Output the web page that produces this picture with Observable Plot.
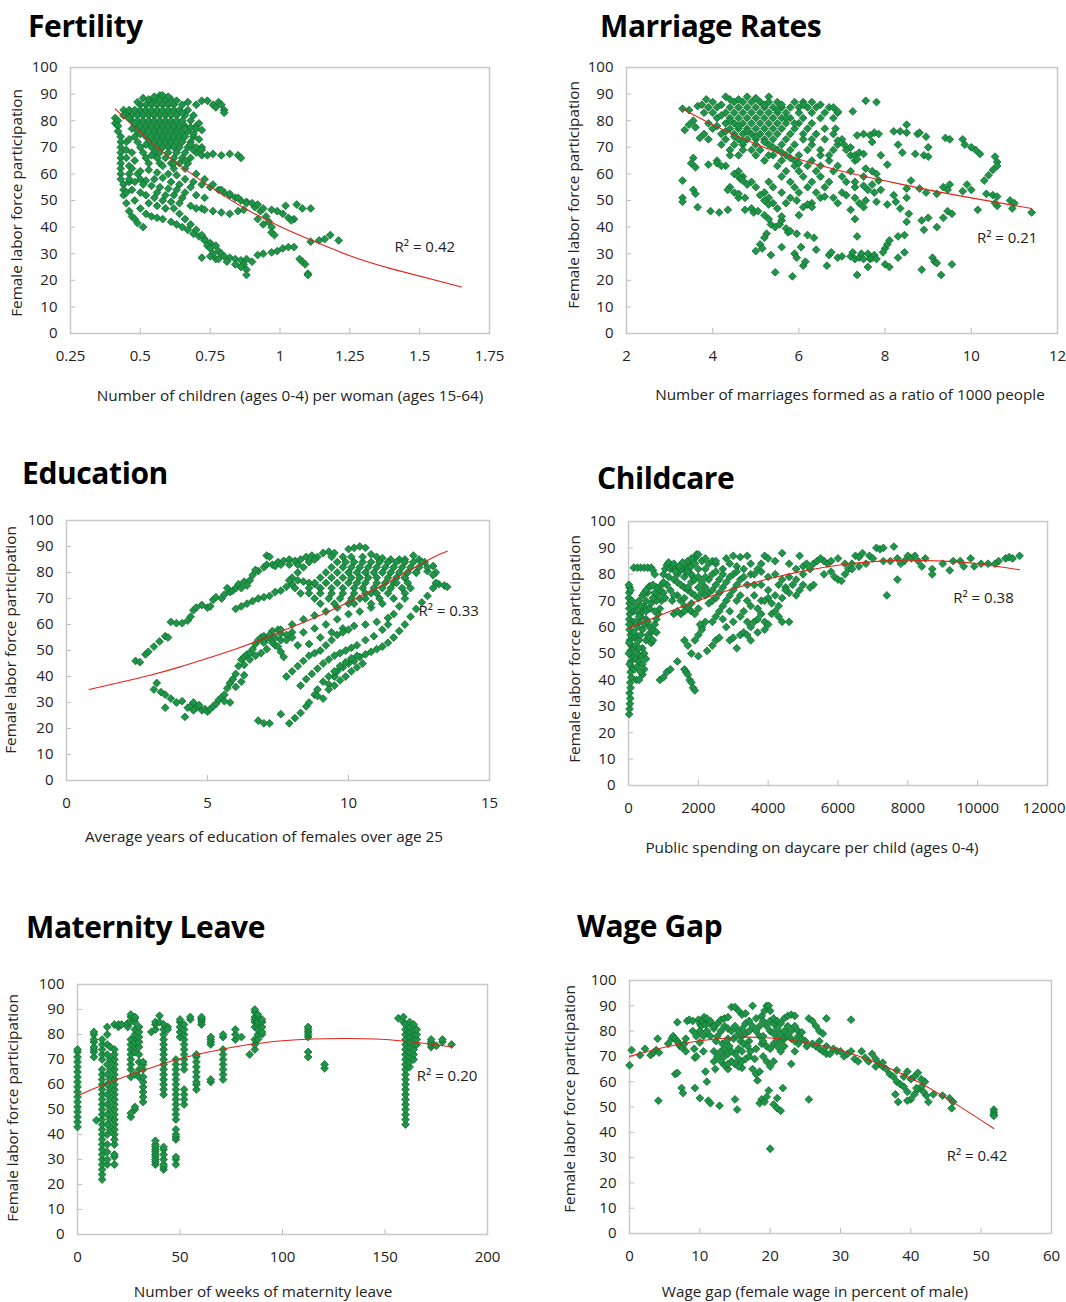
<!DOCTYPE html>
<html><head><meta charset="utf-8">
<script src="https://cdn.jsdelivr.net/npm/d3@7"></script>
<script src="https://cdn.jsdelivr.net/npm/@observablehq/plot@0.6"></script>
<style>
body{margin:0;background:#fff;}
#root{position:relative;width:1066px;height:1302px;overflow:hidden;font-family:"Open Sans",sans-serif;color:#222;}
.title{position:absolute;font-weight:700;font-size:30px;line-height:30px;color:#000;white-space:nowrap;letter-spacing:-0.4px;}
.xl{position:absolute;font-size:15.3px;line-height:1;white-space:nowrap;transform:translate(-50%,-50%);}
.yl{position:absolute;font-size:15.3px;line-height:1;white-space:nowrap;transform:translate(-50%,-50%) rotate(-90deg);}
</style></head>
<body><div id="root"></div>
<script>
// ---------------- DATA ----------------
const fertility = [
 [0.41,81],[0.41,79],[0.42,80],[0.42,78],[0.42,76],[0.43,74],[0.43,72],[0.43,70],[0.43,68],[0.43,66],[0.43,64],[0.43,62],[0.43,60],[0.43,58],[0.44,56],[0.44,54],[0.44,52],[0.45,53],[0.44,84],[0.45,83],[0.46,84],[0.44,82],[0.45,72],[0.45,69],[0.45,66],[0.46,63],[0.46,60],[0.46,57],
 [0.57,89.5],[0.58,89.5],
 [0.53,88],[0.55,88],[0.57,88],[0.59,88],[0.61,88],
 [0.50,86],[0.52,86],[0.54,86],[0.56,86],[0.58,86],[0.60,86],[0.62,86],[0.65,86],
 [0.48,84],[0.50,84],[0.52,84],[0.54,84],[0.56,84],[0.58,84],[0.60,84],[0.62,84],[0.64,84],[0.67,84],
 [0.47,82],[0.49,82],[0.51,82],[0.53,82],[0.55,82],[0.57,82],[0.59,82],[0.61,82],[0.63,82],[0.66,82],
 [0.47,80],[0.49,80],[0.51,80],[0.53,80],[0.55,80],[0.57,80],[0.59,80],[0.61,80],[0.63,80],[0.65,80],[0.68,80],
 [0.48,78],[0.50,78],[0.52,78],[0.54,78],[0.56,78],[0.58,78],[0.60,78],[0.62,78],[0.64,78],[0.66,78],[0.70,78],
 [0.49,76],[0.51,76],[0.53,76],[0.55,76],[0.57,76],[0.59,76],[0.61,76],[0.63,76],[0.65,76],[0.67,76],
 [0.48,74],[0.52,74],[0.54,74],[0.56,74],[0.58,74],[0.60,74],[0.62,74],[0.64,74],[0.66,74],[0.69,74],
 [0.49,72],[0.53,72],[0.55,72],[0.57,72],[0.59,72],[0.61,72],[0.63,72],[0.65,72],[0.68,72],
 [0.50,70],[0.54,70],[0.56,70],[0.58,70],[0.60,70],[0.62,70],[0.64,70],[0.67,70],[0.72,70],
 [0.51,68],[0.55,68],[0.57,68],[0.60,68],[0.63,68],[0.66,68],[0.70,68],
 [0.52,66],[0.56,66],[0.59,66],[0.62,66],[0.65,66],[0.68,66],
 [0.53,64],[0.57,64],[0.61,64],[0.64,64],[0.67,64],
 [0.49,87],[0.51,88.5],[0.55,89],[0.60,89],[0.63,87.5],[0.46,81],[0.48,79],[0.50,75],[0.52,71],[0.54,67],[0.58,63],[0.62,62],[0.66,65],[0.69,69],[0.71,73],[0.69,75],[0.71,79],[0.69,82],[0.65,83],[0.47,77],[0.46,73],[0.47,68],[0.48,65],[0.49,60],[0.50,58],[0.52,57.5],[0.55,58],[0.58,58.5],[0.61,57],[0.64,56],[0.68,55],[0.59,52],[0.62,52],[0.65,51],[0.56,53],[0.53,49],[0.56,48],[0.59,47],[0.48,50],[0.45,49],
 [0.47,62],[0.50,61],[0.53,61.5],[0.56,60.5],[0.60,60],[0.63,59.5],[0.66,58],[0.69,57],[0.72,56],
 [0.46,58],[0.48,57],[0.51,56],[0.54,55.5],[0.57,55],[0.60,54.5],[0.63,54],[0.66,53],[0.70,52],[0.73,51],
 [0.47,54],[0.50,53],[0.52,52],[0.55,51],[0.58,50],[0.61,49.5],[0.64,49],[0.68,48],[0.72,47],
 [0.70,47],[0.73,46.5],[0.76,46],[0.79,45.5],[0.82,45],[0.85,46],[0.87,46.5],
 [0.75,55],[0.78,54],[0.80,53],[0.82,52],[0.84,51],[0.86,50],[0.88,49.5],
 [0.67,87],[0.70,86],[0.72,87.5],[0.74,87.5],[0.76,86],[0.77,85],[0.78,87],[0.79,86],[0.80,84],[0.80,83],
 [0.66,77],[0.68,77.5],[0.70,77],[0.72,76.5],
 [0.68,71],[0.70,70],[0.72,69],
 [0.72,67],[0.74,67],[0.76,67.5],[0.79,67],[0.82,67.5],[0.85,67],[0.86,66],
 [0.62,64],[0.66,62],[0.70,60],[0.73,58],[0.76,56],[0.79,54],[0.82,52.5],[0.85,51],[0.88,49],[0.91,47.5],[0.93,46],[0.95,44],[0.96,42],[0.97,40],[0.97,38],[0.98,37],[0.92,43],[0.94,41],
 [0.90,49],[0.92,48.5],[0.94,47],[0.97,46.5],[0.99,46],[1.01,45],[1.03,43.5],[1.05,43],[1.04,42.5],
 [1.02,48],[1.06,48.5],[1.08,47],[1.11,47],
 [0.46,46],[0.47,44],[0.48,43],[0.49,41.5],[0.51,40],
 [0.50,47],[0.52,45],[0.54,44],[0.56,43.5],[0.58,43],[0.61,42],[0.63,41],[0.65,40],[0.67,39],[0.69,37.5],[0.71,36.5],[0.73,35.5],[0.75,34],[0.77,33],[0.78,31],[0.79,30],[0.80,29],[0.82,28.5],[0.84,28],[0.86,27.5],[0.87,26],[0.88,24],[0.88,22],
 [0.62,47],[0.64,45],[0.66,43],[0.68,41],[0.70,39],[0.72,37],[0.73,35],[0.74,33],[0.75,32],[0.76,30],[0.77,28],
 [0.72,28.5],[0.75,29],[0.78,28],[0.81,27],[0.84,26],[0.86,25],
 [0.88,28],[0.90,27],[0.92,29.5],[0.94,30],[0.97,30.5],[0.99,31],[1.01,32],[1.03,32.5],[1.05,32.5],[1.07,28],[1.08,27],[1.09,26],[1.10,22.5],[1.10,22],
 [1.11,34.5],[1.14,35],[1.16,35.5],[1.18,37],[1.21,35]
];
const fertilityTrend = [[0.41,84.5],[0.5,75.5],[0.6,66.5],[0.7,58.8],[0.85,48.5],[1.0,40.2],[1.1,35.6],[1.25,29.2],[1.4,24.3],[1.65,17.5]];

const marriage = [
 [4.3,89],[4.8,89],[5.3,89],
 [4.0,87],[4.5,87],[4.7,87],[4.9,87],[5.1,87],[5.3,87],[5.5,87],[5.9,87],[6.1,87],[6.3,87],
 [3.9,85],[4.1,85],[4.4,85],[4.6,85],[4.8,85],[5.0,85],[5.2,85],[5.4,85],[5.6,85],[5.8,85],[6.0,85],[6.2,85],[6.4,85],[6.7,85],
 [3.8,83],[4.0,83],[4.3,83],[4.5,83],[4.7,83],[4.9,83],[5.1,83],[5.3,83],[5.5,83],[5.7,83],[6.0,83],[6.3,83],[6.6,83],[6.9,83],
 [4.1,81],[4.4,81],[4.6,81],[4.8,81],[5.0,81],[5.2,81],[5.4,81],[5.6,81],[5.8,81],[6.1,81],[6.5,81],[6.8,81],
 [3.9,79],[4.3,79],[4.5,79],[4.7,79],[4.9,79],[5.1,79],[5.3,79],[5.5,79],[5.7,79],[6.0,79],[6.3,79],
 [4.0,77],[4.4,77],[4.6,77],[4.8,77],[5.0,77],[5.2,77],[5.4,77],[5.6,77],[5.9,77],[6.2,77],[6.6,77],
 [3.8,75],[4.2,75],[4.5,75],[4.7,75],[4.9,75],[5.1,75],[5.3,75],[5.5,75],[5.8,75],[6.4,75],[6.8,75],
 [3.9,73],[4.3,73],[4.6,73],[4.8,73],[5.0,73],[5.2,73],[5.4,73],[5.7,73],[6.1,73],[6.6,73],[7.0,73],
 [4.2,71],[4.5,71],[4.7,71],[5.0,71],[5.3,71],[5.6,71],[5.9,71],[6.3,71],[6.9,71],
 [4.4,69],[4.7,69],[5.1,69],[5.5,69],[5.8,69],[6.2,69],[6.8,69],[7.1,69],
 [4.6,67],[5.0,67],[5.4,67],[5.7,67],[6.0,67],[6.5,67],[7.2,67],
 [4.1,65],[5.2,65],[5.6,65],[5.9,65],[6.3,65],[6.7,65],[7.3,65],
 [4.3,63],[5.5,63],[5.9,63],[6.2,63],[6.5,63],[6.9,63],
 [4.6,61],[5.7,61],[6.0,61],[6.4,61],[6.8,61],[7.2,61],
 [4.7,59],[5.6,59],[6.1,59],[6.5,59],[7.0,59],[7.5,59],
 [4.9,57],[5.3,57],[5.8,57],[6.3,57],[6.7,57],[7.1,57],
 [5.0,55],[5.4,55],[5.9,55],[6.2,55],[6.6,55],[7.3,55],
 [4.5,53],[5.2,53],[5.6,53],[6.0,53],[6.4,53],[7.0,53],
 [4.6,51],[5.3,51],[5.8,51],[6.5,51],[6.8,51],
 [5.4,49],[5.7,49],[6.3,49],
 [4.2,86],[4.4,88],[4.6,88],[5.0,88.5],[5.2,86],[5.6,86],[4.2,82],[4.4,80],[4.6,78],[4.8,76],[5.0,74],[5.2,72],[5.4,70],[5.6,68],[5.8,66],[6.0,64],[4.3,76],[4.5,74],[4.7,72],[5.5,84],[5.7,81],[5.9,79],[6.1,75],[6.3,73],[6.5,69],[6.7,67],[4.1,78],[4.9,69],[5.3,67],[6.1,86],[4.4,67],
 [3.3,84.5],[3.45,84],[3.35,76.5],[3.45,78.5],[3.55,80],[3.6,77.5],[3.7,73.5],[3.65,85.5],[3.75,86],[3.85,88],[3.3,57.5],[3.3,51],[3.3,49.5],[3.5,64],[3.55,66],[3.6,62.5],[3.55,54],[3.6,52.5],[3.65,47.5],[3.9,63.5],[3.95,46],[4.15,45.5],[4.35,46.5],[4.1,64],[4.2,63],[4.4,55],[4.35,54],[4.5,60],[4.6,59],[4.65,58],[4.7,57.5],[4.8,56],[4.6,52.5],[4.75,51],[4.75,46.5],[4.9,47],[4.95,45.5],
 [5.05,46],[5.2,44.5],[5.3,43],[5.35,41],[5.45,40],[5.55,41],[5.6,42.5],[5.7,39.5],[5.75,38],[5.6,44],[5.5,47],[5.3,48.5],[5.2,50],[5.1,52],[5.25,37.5],[5.2,36],[5.1,33.5],[5.0,31],[5.15,32],[5.35,29.5],[5.45,23],[5.6,32.5],[5.85,21.5],[5.9,30],[5.95,28.5],[5.8,38.5],[5.95,37.5],[6.1,25.5],[6.15,27],[6.05,32.5],[6.2,37],[6.35,36],[6.4,31.5],[6.65,25.5],[6.7,29.5],[6.75,30.5],[6.9,28.5],[7.0,29],[7.2,29],[7.25,30.5],[7.3,28],[7.4,28.5],[7.45,30],[7.5,28],[7.6,30],[7.65,28],[7.7,28.5],[7.75,29.5],[7.8,28],[7.6,25],[7.35,22],[7.3,43],[7.35,36.5],[6.2,48.5],[6.1,47.5],[6.3,47.5],[6.0,44.5],[5.95,50],[6.6,51.5],[6.9,49],[7.1,52],[7.3,51],[7.4,49],[7.55,50],[7.2,46.5],[7.5,47.5],
 [7.8,49.5],[7.9,54],[7.7,56],[7.85,57.5],[7.6,54],[7.75,53],[8.05,48.5],[8.2,52],[8.25,49.5],[8.35,47],[8.5,42],[8.45,37],[8.3,36.5],[8.45,30.5],[8.3,28.5],[8.0,32],[8.05,33.5],[8.1,35],[7.95,30.5],[8.0,26],[8.1,25],[8.55,45],[8.5,51],[8.5,54.5],[8.6,57.5],[8.8,54.5],[8.95,53],
 [6.5,86],[6.8,85],[6.9,83.5],[6.85,77],[6.9,72.5],[7.05,71],[7.2,70],[7.3,67],[7.35,65.5],[7.4,68],[7.25,83.5],[7.35,74.5],[7.5,75],[7.65,74.5],[7.75,75.5],[7.85,75],[7.7,72],[7.5,67.5],[7.55,87.5],[7.8,87],[7.3,57],[7.5,55.5],[7.55,62],[7.7,61],[7.8,60],[7.9,67],[8.05,63.5],[8.2,76],[8.35,76],[8.5,78.5],[8.5,75.5],[8.4,68],[8.3,71],[8.7,67.5],[8.9,67],[9.0,66.5],[8.75,75],[8.8,75.5],[8.95,74],[9.0,70],[9.4,73.5],[9.5,73],[9.8,73],[9.85,71],[10.0,70],[10.1,69],[10.2,67.5],[10.55,66.5],[10.6,64.5],[10.6,63],[10.5,61.5],[10.4,59.5],[10.3,57.5],[9.9,56],[9.8,53.5],[10.0,54],[9.35,55],[9.45,54],[9.5,56],[9.2,52.5],[10.35,52.5],[10.5,52],[10.6,48],[10.15,46.5],[10.9,50],[11.0,49],[10.95,47],[11.4,45.5],[9.45,46],[9.55,45],[9.35,43.5],[9.2,40],[9.0,43.5],[8.85,42.5],[8.9,39],[8.85,24],[9.1,28.5],[9.15,27],[9.2,26.5],[9.55,26],[9.3,22],[10.6,51.5],[10.55,49]
];
const marriageTrend = [[3.3,84.5],[4,78.5],[5,71.2],[6,65.5],[7,61],[8,57.4],[9,54],[10,51],[11.4,47]];

const education = [
 [2.45,46],[2.6,45.5],[2.8,48.5],[2.9,49.5],[3.1,51.5],[3.3,53.5],[3.5,55.5],[3.6,55],[3.7,61],[3.9,60.5],[4.1,60.5],[4.3,61.5],[4.4,63],[4.5,65.5],[4.6,66.5],[4.8,67.5],[5.0,66.5],[5.1,67],[5.2,69.5],[5.3,70.5],[5.5,70],[5.6,71.5],[5.8,72.5],[5.9,73],[6.0,74],[6.1,75.5],[6.3,76.5],[6.5,77],[6.6,79],[6.8,80.5],[7.0,82],[7.1,83],[7.1,86.5],[7.2,86],[7.3,83],[7.5,84],[7.7,84.5],[7.9,85],[8.1,84.5],[8.3,85],[8.5,86],[8.7,86.5],[8.9,86],[9.1,87.5],[9.3,88],[9.5,87.5],[7.4,82.5],[7.6,83],[6.2,74],[6.4,75],[5.7,74],[6.7,81],[8.2,83],[7.9,83],
 [6.0,66],[6.2,67],[6.4,68],[6.6,69],[6.8,70],[7.0,70.5],[7.2,71],[7.4,72.5],[7.6,73],[7.8,74.5],[8.0,75.5],[8.2,77],[8.4,76.5],[8.6,76],[8.8,75.5],[9.0,74],
 [3.1,35],[3.2,37.5],[3.35,34],[3.5,33],[3.5,28],[3.7,31.5],[3.9,30],[4.1,30.5],[4.2,24.5],[4.3,28],[4.4,28.5],[4.5,30],[4.6,28],[4.7,29],[4.8,27],[4.9,27.5],[5.0,26.5],[5.1,27.5],[5.2,28.5],[5.3,29.5],[5.4,31],[5.5,32],[5.6,33],[5.7,35.5],[5.8,37.5],[5.9,39],[6.0,41],[6.1,44],[6.2,46.5],[6.3,47.5],[6.4,48.5],[6.5,49],[6.6,50.5],[6.7,52.5],[6.8,54],[6.9,55],[7.0,55.5],[7.1,54.5],[7.2,55],[7.3,53],[7.4,52],[7.5,51.5],[7.6,49.5],[7.7,47.5],[7.1,50.5],[7.3,57.5],[7.5,58],[6.3,44.5],[6.5,46.5],[6.7,48],[6.9,49],[4.5,27],[5.8,30],[5.6,30.5],[6.0,36],[6.2,38],[6.3,40.5],
 [7.0,53],[7.2,56],[7.4,55],[7.6,54],[7.8,56],[8.0,57],[7.6,56.5],[7.8,54],
 [7.6,58],[8.0,60],[8.4,62],[8.8,63.5],[9.2,65],[9.6,66.5],[10.0,68],[10.4,70],[10.8,72],[11.2,74],[11.6,76],[12.0,78],[12.4,80],
 [8.0,55],[8.4,57],[8.8,58.5],[9.2,60],[9.6,62],[10.0,64],[10.4,65],[10.8,66.5],[11.2,68],[11.6,70],[12.0,72],[12.2,74],
 [8.2,52],[8.6,52.5],[9.0,55],[9.4,57],[9.8,58.5],[10.2,59.5],[10.6,60],[11.0,61],[11.4,62.5],[11.6,64],[11.8,67],[12.0,70],
 [7.8,40],[8.0,42],[8.2,44],[8.4,46],[8.6,48],[8.8,49],[9.0,50],[9.2,52],[9.4,54],[9.6,56],[9.8,57],[10.0,58],
 [8.3,36.5],[8.5,39],[8.7,41],[8.9,43],[9.1,45],[9.3,46.5],[9.5,48],[9.7,49],[9.9,50],[10.1,51],[10.3,52],[10.6,54],[10.9,55.5],[11.2,58],[11.4,60],
 [9.3,37],[9.5,40],[9.6,42],[9.8,43.5],[10.0,45],[10.2,46],[10.4,47.5],[10.6,48.5],[10.8,49.5],[11.0,50.5],[11.2,51.5],[11.4,53],[11.6,55],[11.8,57.5],[12.0,60],[12.2,63],[12.4,66],[12.6,68.5],[12.8,71],[13.0,74],[13.2,75.5],[13.4,75],[13.5,74.5],[13.1,76],
 [7.9,22],[8.1,24],[8.3,26],[8.5,28.5],[8.6,30],[8.8,33],[8.9,35],[9.1,38],[9.3,40],[9.5,42],[9.7,44],[9.9,45.5],[10.1,47],[10.3,48],
 [9.1,31.5],[8.9,32.5],[9.3,35],[9.5,36.5],[9.7,38.5],[9.9,40],[10.1,42],[10.3,43.5],[10.5,45],
 [6.8,23],[7.0,22],[7.2,22],[7.6,25.5],
 [10.0,89],[10.2,89.5],[10.4,90],[10.6,89.5],[10.8,87],[11.0,86],[11.2,85.5],[11.5,85],[11.8,85],[12.0,85],[12.3,86.5],[12.5,85],[12.7,84],[13.0,82.5],[13.1,80],[13.0,79],[12.8,80.5],
 [9.6,84],[9.9,84],[10.2,84],[10.5,84],[10.8,84],[11.1,84],[11.4,84],[11.7,84],[12.0,84],[12.3,84],[12.6,84],
 [9.4,82],[9.8,82],[10.1,82],[10.4,82],[10.7,82],[11.0,82],[11.3,82],[11.6,82],[11.9,82],[12.2,82],[12.5,82],[12.8,82],
 [9.2,80],[9.6,80],[10.0,80],[10.3,80],[10.6,80],[10.9,80],[11.2,80],[11.5,80],[11.8,80],[12.1,80],[12.4,80],
 [9.0,78],[9.4,78],[9.8,78],[10.1,78],[10.4,78],[10.7,78],[11.0,78],[11.4,78],[11.7,78],[12.0,78],
 [8.8,76],[9.2,76],[9.6,76],[10.0,76],[10.3,76],[10.6,76],[11.0,76],[11.3,76],[11.7,76],[12.1,76],
 [8.6,74],[9.0,74],[9.4,74],[9.8,74],[10.2,74],[10.5,74],[10.9,74],[11.5,74],[11.9,74],
 [8.6,72],[9.0,72],[9.4,72],[9.8,72],[10.2,72],[10.6,72],[11.0,72],[11.4,72],
 [8.8,70],[9.3,70],[9.7,70],[10.1,70],[10.6,70],[11.1,70],
 [9.4,86],[9.8,86],[10.1,86],[10.5,86],
 [9.0,68],[9.5,68],[10.2,68],[10.8,68],
 [8.0,78],[8.2,80],[8.4,82],[8.6,84],[8.8,85],[7.9,77],[8.1,74],[8.3,72]
];
const educationTrend = [[0.8,35],[2,38],[3,40.6],[4,43.6],[5,47],[6,50.6],[7,54.6],[8,59],[9,63.6],[10,68.6],[11,74],[12,79.8],[13,85.8],[13.5,88.2]];

const childcare = [
 [20,27],[30,29],[40,31],[50,33],[30,35],[60,37],[50,39],[80,41],[60,43],[90,45],[70,47],[100,49],[60,51],[80,53],[40,55],[60,57],[30,59],[50,61],[20,63],[40,65],[20,67],[30,69],[10,71],[20,73],[30,75],[10,76],[60,74],[100,70],[150,66],[120,62],[180,56],[150,52],[200,48],[170,44],[230,40],[20,61],[20,54],[10,50],[30,46],
 [150,82.5],[250,82.5],[350,82.5],[450,82.5],[550,82.5],[650,82.5],[700,81.5],[750,80],
 [200,57],[250,60],[300,62],[350,64],[400,66],[450,68],[500,70],[300,55],[350,57],[400,59],[450,61],[500,63],[550,62],[600,60],[650,58],[700,59],[750,61],[800,63],[850,65],[900,67],[950,70],[400,52],[450,50],[500,48],[350,49],[300,47],[250,45],[400,46],[450,44],[500,55],[550,57],[600,56],[650,54],[700,55],[800,58],[750,66],[800,70],[850,72],[900,74],[950,76],[1000,73],[1050,71],[600,67],[650,69],[700,71],[750,73],[800,75],[600,75.5],[650,75.5],[700,76],[550,73],[500,66],[250,50],[200,53],[300,52],[400,42],[300,40],[350,43],
 [200,68],[250,66],[300,70],[350,68],[400,72],[450,73],[500,74],[300,64],[200,62],[150,58],
 [1000,80],[1050,82],[1100,83.5],[1150,84.5],[1200,82],[1250,83],[1300,84],[1350,82],[1400,80],[1450,81],[1500,82],[1550,83],[1600,79],[1650,81],[1700,82],[1750,84],[1800,83],[1850,79],[1900,86],[1950,87.5],
 [1300,78],[1400,77],[1500,76],[1600,75],[1700,74],[1800,73],[1900,72],[2000,71],[1400,72],[1500,70],[1600,68],[1700,67],[1800,66],[1900,65],[1500,65],[1600,66],[1700,75],[1800,77],[1900,78],[2000,79],[2100,77],[2200,75],[2300,73],[2000,75],[2100,73],[2200,72],[2300,78],[2400,80],[2500,81],[2200,82],[2300,84],[2400,85],[2500,84],[2100,85],[2000,82],[1800,80],[1700,81],[1600,84],[1700,85],[1800,86],[1900,84],[1250,70],[1300,65],[1400,66],
 [1300,72],[1200,74],[1100,76],[1000,77],[1150,79],[1350,81],[1450,83],[1550,84.5],
 [2700,82],[2900,84],[3100,83],[3300,82],[3500,80],[3400,76],[3600,76],[3800,76],[4000,74],[4300,76],[2600,78],[2700,80],[2500,76],[2400,74],[2200,79],[2000,67],[1800,69],[1600,71],[3100,70],[2900,66],[2700,63],[2800,60],[3000,62],[3200,64],[3400,62],
 [900,40],[1000,41],[1100,43],[1200,44],[1400,47],[1600,44],[1650,43],[1700,42],[1750,40],[1800,39],[1850,37],[1900,36],[1600,55],[1700,53],[1800,50],[1900,55],[2000,57],[2000,49],[2100,60],[2200,62],[2050,61],[2100,59],[2250,51],[2400,53],[2500,55],[2600,56],[2900,55],[3000,56],[3100,52],[3200,57],[3300,58],[3400,57],[3500,60],[3600,62],[3700,63],[3800,65],[3900,62],[4000,61],[4100,65],[4200,66],[4300,64],[4400,62],[4600,62],[3500,55],[3700,58],[3900,59],[2400,62],[2500,64],[2600,66],[2700,68],[2800,70],[2900,72],[3000,74],[3100,76],[3200,78],[3300,79],[2600,73],[2700,75],[2800,77],[2900,79],[3000,80],[3100,81],[2300,69],[2400,70],[2500,71],
 [2000,87.5],[2200,86],[2500,85],[2800,86],[3000,87],[3200,86.5],[3400,87],[3500,84],[3800,84],[3900,87],[4000,86],[4200,85],[4400,88],[4600,84],[4800,82],[4900,87],[3600,80],[3700,82],[3800,81],[4000,79],[4200,80],[4400,78],[4600,79],[4800,78],[5000,80],[3600,72],[3800,70],[4000,71],[4200,72],[4400,71],[4600,73],[4800,72],[5000,76],[4500,75],[4700,76],[4900,74],[3500,68],[3700,67],[3900,70],[4100,69],[4300,68],[4500,74],[3200,72],[3400,70],[3300,66],
 [5000,83],[5100,84],[5200,82],[5300,84],[5400,85],[5600,85],[5700,84],[5800,81],[5900,79],[6000,78],[6100,77.5],[6200,80],[6300,82],[6400,84],[6500,87],[6600,86.5],[6700,88],[6800,84],[6900,87],[7000,86],[5500,86],[5200,75],[5300,76],[5600,80],[6000,86],[6200,84],[6400,82],[6600,83],[5800,85],
 [7100,90],[7200,89.5],[7300,90],[7400,72],[7500,85],[7600,90.5],[7700,78],[7700,86],[7900,85],[8000,87],[8100,86],[8200,87],[8300,85],[8500,86],[8700,82],[8700,80],[9000,84],[9200,81.5],[9300,85],[9500,85],[9600,83],[9800,86],[9900,83],[10100,84],[10300,84],[10600,85],[10800,86],[10900,86.5],[11000,86],[11200,87],[7300,85],[7800,84],[8400,83],[10500,84]
];
const childcareTrend = [[0,59.5],[1000,65],[2000,70],[3000,74.5],[4000,78.2],[5000,81.2],[6000,83.4],[7000,84.8],[8000,85.3],[9000,85],[10000,84],[11200,81.7]];

const maternityCols = [
 [0,[43,45,47,49,51,53,55,57,59,61,63,65,67,69,71,73,74]],
 [8,[71,73,74,75,77,78,80,81]],
 [9.2,[45.7]],
 [12,[22,24,26,28,30,32,34,36,38,40,42,44,46,48,50,52,54,56,58,60,62,64,66,70,72,74,76,78]],
 [14.5,[28,30,33,36,40,44,48,52,56,60,64,68,72,76,80,83]],
 [16,[42,46,50,54,58,62,66,70,75]],
 [18,[28,31,32,36,38,40,42,44,46,48,50,52,54,56,58,60,62,64,66,68,70,72,74,84]],
 [20,[83,84]],[21.5,[84]],[24.5,[83,84.5]],
 [26,[47,48.5,63,66,68,70,72,74,76,78,85,87,88]],
 [28,[50,51,64,73,75,77,79,80,82,85,86.5,87]],
 [30,[63,66,69,72,75,77,79,81,83]],
 [32,[53,55,57,59,61,63,66,68,69]],
 [36,[81]],
 [38,[28,29,30,31,32,33,34,35,36,37.5,82,84,85]],
 [40,[87.5,85]],
 [42,[26,27,28,30,32,34,35,56,58,60,62,64,66,68,70,72,74,76,78,80,82,84]],
 [44,[83,82]],
 [48,[28,30,31,38,39,40,42,46,48,50,52,54,56,58,60,62,64,66,68,70]],
 [50,[79,81,83,85,86]],
 [52,[52,54,56,58,66,68,70,72,74,76,78,80,82,84]],
 [55,[86,87]],
 [58,[58,60,61,63,65,67,69,71,72]],
 [60.5,[84,85,86,86.5,87]],
 [65,[61,62,76,77,78,79]],
 [71,[62,64,66,68,70,72,74,79,80]],
 [77,[78,80,82]],[80,[79]],[84,[72]],
 [86.5,[74,76,78,83,85,86,87,89,90]],
 [88,[78,80,82,84,85,87,88]],
 [90,[80,81,83,85,86]],
 [112.5,[71,73,79,80,81,82,83]],
 [120.5,[66.5,68]],
 [156.5,[86.5]],[159,[85,87]],
 [160,[44,46,48,50,52,54,56,58,60,62,64,66,68,70,72,74,76,78,80,82,84]],
 [162,[67,69,71,73,75,77,79,81,83,85]],
 [164,[70,72,74,76,78,80,82,84]],
 [165.5,[76,78,80,82]],
 [172.5,[75,76,77,78]],[175,[75.5]],[178,[77,78]],[182.5,[76]]
];
const maternityTrend = [[0,55.5],[10,59],[20,62.2],[30,65.1],[40,67.8],[50,70.3],[60,72.3],[70,74],[80,75.5],[90,76.6],[100,77.5],[115,78.2],[130,78.4],[145,78.2],[160,77.3],[170,76.4],[183,75]];

const wageGap = [
 [0,66.5],[0.3,72.5],[1.5,70.5],[2.2,73],[3,70.5],[3.4,71.5],[3.8,72.5],[4,77],[4.1,52.5],[4.2,71.5],
 [5.5,75],[6,77],[6.2,78],[6.5,77],[6.8,76],[7,75],[7.2,74],[7.5,73.5],[7.8,75],[8,72],[6.8,83.5],[6.5,63],[6.8,63.5],[7.4,57.5],[7.6,55.5],[8.0,77],[8.2,84],[8.5,84.5],[9,84],[9.2,73],[9.3,69.5],[9.3,57.5],[9.5,70],[9.8,84.5],[10,83],[10.2,82],[10.4,84],[10.6,85.5],[10.8,82.5],[11,85],[11.4,83],[10,53.5],[10,75.5],[10.5,72],[10.8,64],[11,60],[11.2,52.5],[11.5,51.5],[12,72],[12.3,76],[12.5,78],[12.8,50.5],[12.2,65],[12,68],[12.5,70],
 [9,80],[9.5,78],[10,80],[10.5,78],[11,80],[11.5,78],[12,81],[12.5,83],[13,72],[13.5,73],[14,77],[15,71],[15.5,69],[16,78],[16.5,83],[17,76],[17.5,82],[18,80],[18,85],[18.5,78],[19,70],[19.5,68],[20,84],[20.5,83],[21,77],[21.5,76],[22,74],[22.5,82],[23,80],[23.5,82],[24,75],[22,77],[18,73],[17.8,69],[14,65],[16,65.5],[12,82],[11.5,84],
 [13,84.5],[13.5,85],[14,85.5],[14.5,89.5],[15,89.5],[15.5,88],[16,86.5],[16.5,87],[17,84],[17.5,90],[13,80],[13.5,82],[14,81],[14.5,80],[15,82],[15.5,80],[16,81],[16.5,79],[17,80],[13,68],[13.5,70],[14,71],[14.5,68],[15,67],[15.5,66],[16,68],[16.5,69],[17,70],[13.2,75],[13.8,76],[14.2,74],[14.8,77],[15.2,78],[15.8,76],[16.2,75],[16.8,74],[17.2,72],[13.5,66.5],[14,67],[14.5,72],[15.5,73],[16,72],[15,53],[15.3,49],[17.5,65],[18,63],[18.2,60.5],[18.5,64],[18.8,75],[19,78],[18.5,82],[18.8,86],[19.2,88],[19.5,90],[19.8,90],[20,88],[20.5,85],[21,84],[21.5,83],[22,85],[22.5,86],[23,86.5],[23.5,86],[19,84],[19.5,82],[20,80],[20.5,79],[21,81],[21.5,79],[22,80],[22.5,78],[23,77],[23.5,76],[24,78],[24.5,77],[19,76],[19.5,74],[20,73],[20.5,75],[21,74],[21.5,72],[20,66],[20.5,68],[19.8,56.5],[18.8,53],[18.5,51.5],[19.2,52],[19.5,54],[20.5,51],[21,49.5],[21.5,48.5],[21,53.5],[21.8,57.5],[20,33.5],[23,67],[23.5,72],[24,80],[24.5,79.5],[25,76],[25.2,74],
 [25.5,53],[25.5,85],[26,84],[26.5,82],[27,80],[27.5,79],[28,85],[26,75],[26.5,74],[27,73],[27.5,72],[28,71],[28.5,71],[29,73],[29.5,72],[30,72],[28,74],[27,76],[31.5,84.5],
 [30.5,70],[31,71],[31.5,72],[32,69],[32.5,68],[33,72],[33.5,69.5],[34,68],[34.5,71],[35,69],[35.5,67],[36,66],[36.5,65],[37,63],[37.5,62],[38,60],[38.5,59],[39,62],[39.5,64],[38,64.5],[37.8,55],[38.2,52],[39,58],[39.5,56],[40,53],[40.5,55],[41,57],[41.5,58],[42,60],[40.5,62],[41,63.5],[41.5,61],[42.2,54.5],[42.5,52],[43.2,55],[44.5,54.5],[45.5,53.5],[46,52],[45.8,49.5],[51.8,49],[51.8,48],[51.8,47],[51.8,46.5],[36,67.5],[35,66],[40,61],[40.8,57.5],[41.8,56],[39.5,52.5]
];
const wageGapTrend = [[0,70],[5,73.6],[10,76.2],[15,77.5],[20,77.3],[25,75.6],[30,72.4],[35,67.6],[40,61.4],[45,53.6],[51.8,41.5]];

const yLabel = "Female labor force participation";
const yTicks = [0,10,20,30,40,50,60,70,80,90,100];

// ---------------- LAYOUT ----------------
const maternity = maternityCols.flatMap(([x, ys]) => ys.map(y => [x, y]));

const panels = [
 {title:"Fertility", tx:28, tb:38, data:fertility, trend:fertilityTrend, frame:[70,489,67,333], xd:[0.25,1.75], xt:[0.25,0.5,0.75,1,1.25,1.5,1.75], r2:"R² = 0.42", r2p:[1.41,32.3], yl:[17,203], xlab:"Number of children (ages 0-4) per woman (ages 15-64)", xlp:[290,396]},
 {title:"Marriage Rates", tx:600, tb:38, data:marriage, trend:marriageTrend, frame:[626,1057,67,333], xd:[2,12], xt:[2,4,6,8,10,12], r2:"R² = 0.21", r2p:[10.13,35.7], yl:[574,195], xlab:"Number of marriages formed as a ratio of 1000 people", xlp:[850,395]},
 {title:"Education", tx:22, tb:485, data:education, trend:educationTrend, frame:[66,489,520,780], xd:[0,15], xt:[0,5,10,15], r2:"R² = 0.33", r2p:[12.48,65], yl:[11,640], xlab:"Average years of education of females over age 25", xlp:[264,837]},
 {title:"Childcare", tx:597, tb:490, data:childcare, trend:childcareTrend, frame:[628,1047,521,785], xd:[0,12000], xt:[0,2000,4000,6000,8000,10000,12000], lastEnd:true, r2:"R² = 0.38", r2p:[9300,70.8], yl:[575,649], xlab:"Public spending on daycare per child (ages 0-4)", xlp:[812,848]},
 {title:"Maternity Leave", tx:26, tb:939, data:maternity, trend:maternityTrend, frame:[77,487,984,1234], xd:[0,200], xt:[0,50,100,150,200], r2:"R² = 0.20", r2p:[165.5,63.2], yl:[13,1108], xlab:"Number of weeks of maternity leave", xlp:[263,1292]},
 {title:"Wage Gap", tx:577, tb:938, data:wageGap, trend:wageGapTrend, frame:[629,1051,980,1233], xd:[0,60], xt:[0,10,20,30,40,50,60], r2:"R² = 0.42", r2p:[45.1,30.4], yl:[570,1099], xlab:"Wage gap (female wage in percent of male)", xlp:[815,1292]}
];

const root = document.getElementById("root");
for (const p of panels) {
  const [L, R, T, B] = p.frame;
  const ml = 60, mr = 40, mt = 10, mb = 40;
  const last = p.xt[p.xt.length - 1];
  const axisOpts = {tickSize: -5, tickPadding: 22, fontSize: 15, stroke: "#bdbdbd", fill: "#222", label: null};
  const xAxes = p.lastEnd
    ? [Plot.axisX({...axisOpts, ticks: p.xt, tickFormat: d => d === last ? "" : String(d)}),
       Plot.axisX({...axisOpts, ticks: [last], tickFormat: d => String(d), tickSize: 0, tickPadding: 17, textAnchor: "end", dx: 18})]
    : [Plot.axisX({...axisOpts, ticks: p.xt, tickFormat: d => String(d)})];
  const svg = Plot.plot({
    width: R - L + ml + mr, height: B - T + mt + mb,
    marginLeft: ml, marginRight: mr, marginTop: mt, marginBottom: mb,
    style: {fontFamily: "Open Sans, sans-serif", fontSize: "15px", color: "#222", background: "transparent", overflow: "visible"},
    x: {domain: p.xd, label: null},
    y: {domain: [0, 100], label: null},
    marks: [
      ...xAxes,
      Plot.axisY({ticks: yTicks, tickFormat: d => String(d), tickSize: -5, tickPadding: 18, fontSize: 15, stroke: "#bdbdbd", fill: "#222", label: null}),
      Plot.frame({stroke: "#c8c8c8", strokeWidth: 1.5}),
      Plot.dot(p.data, {x: d => d[0], y: d => d[1], symbol: "diamond2", r: 3.5, fill: "#1f9548", stroke: "#0e6c2e", strokeWidth: 0.8}),
      Plot.line(p.trend, {x: d => d[0], y: d => d[1], stroke: "#e2231a", strokeWidth: 1.1, curve: "natural"}),
      Plot.text([{x: p.r2p[0], y: p.r2p[1], t: p.r2}], {x: "x", y: "y", text: "t", textAnchor: "start", fontSize: 15, fill: "#222"})
    ]
  });
  svg.style.position = "absolute";
  svg.style.left = (L - ml) + "px";
  svg.style.top = (T - mt) + "px";
  root.appendChild(svg);

  const t = document.createElement("div");
  t.className = "title"; t.textContent = p.title;
  t.style.left = p.tx + "px"; t.style.top = (p.tb - 27) + "px";
  root.appendChild(t);

  const yl = document.createElement("div");
  yl.className = "yl"; yl.textContent = yLabel;
  yl.style.left = p.yl[0] + "px"; yl.style.top = p.yl[1] + "px";
  root.appendChild(yl);

  const xl = document.createElement("div");
  xl.className = "xl"; xl.textContent = p.xlab;
  xl.style.left = p.xlp[0] + "px"; xl.style.top = p.xlp[1] + "px";
  root.appendChild(xl);
}
</script></body></html>
